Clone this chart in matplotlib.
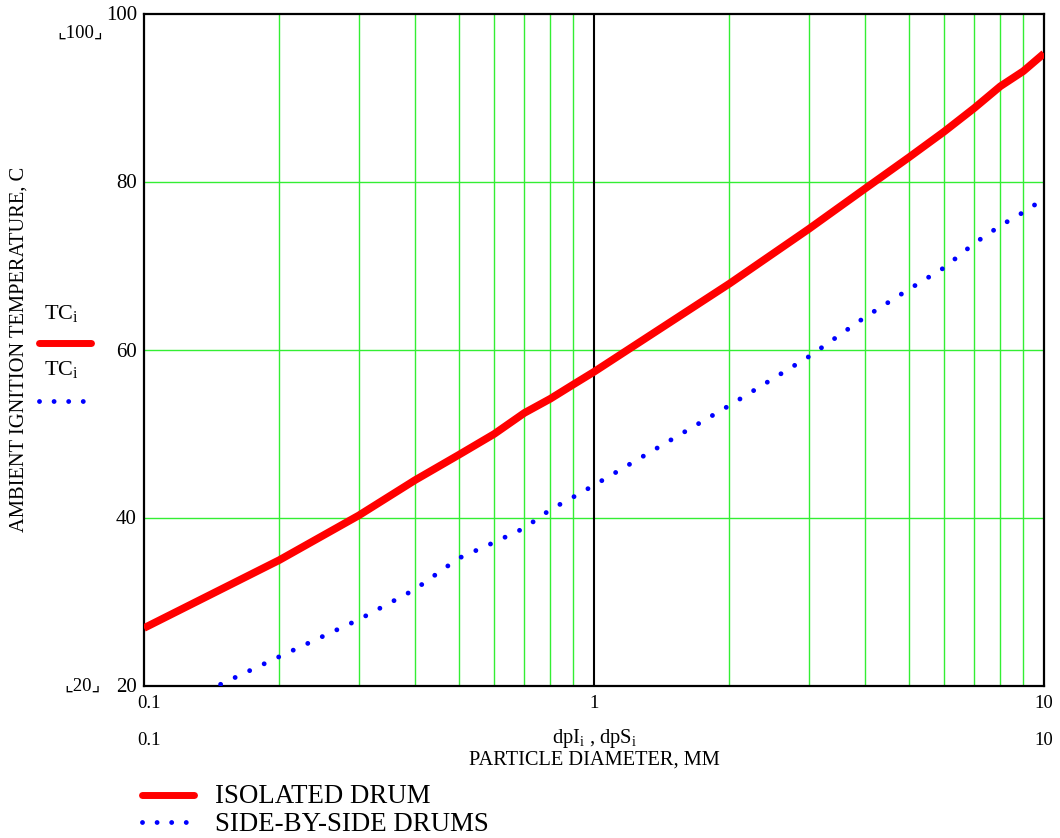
import numpy as np
import matplotlib
matplotlib.use("Agg")
import matplotlib.pyplot as plt

plt.rcParams['font.family'] = ['Liberation Serif', 'DejaVu Serif', 'DejaVu Sans']
plt.rcParams['mathtext.fontset'] = 'custom'
plt.rcParams['mathtext.rm'] = 'Liberation Serif'
plt.rcParams['mathtext.it'] = 'Liberation Serif'

# particle diameter, mm
dp_isolated = [0.1, 0.2, 0.3, 0.4, 0.5, 0.6, 0.7, 0.8, 0.9, 1.0,
               2, 3, 4, 5, 6, 7, 8, 9, 10]
tc_isolated = [26.9, 35.0, 40.3, 44.5, 47.5, 50.0, 52.5, 54.2, 55.9, 57.4,
               67.9, 74.4, 79.2, 82.9, 86.0, 88.8, 91.4, 93.2, 95.3]

dp_side = [0.148, 0.2, 0.3, 0.4, 0.5, 0.6, 0.7, 0.8, 0.9, 1.0,
           2, 3, 4, 5, 6, 7, 8, 9, 10]
tc_side = [20.2, 23.5, 27.9, 31.5, 35.2, 37.1, 38.8, 41.0, 42.5, 43.9,
           53.4, 59.2, 63.9, 67.2, 69.8, 72.7, 74.8, 76.4, 78.0]

x_minor = [0.2, 0.3, 0.4, 0.5, 0.6, 0.7, 0.8, 0.9, 2, 3, 4, 5, 6, 7, 8, 9]
y_ticks = [20, 40, 60, 80, 100]

fig = plt.figure(figsize=(10.6, 8.38), dpi=100)
ax = fig.add_axes([144/1060, 1-686/838, 900/1060, 672/838])

grid_col = '#33ee33'
for xv in x_minor:
    ax.axvline(xv, color=grid_col, lw=1.0, zorder=1)
for yv in [40, 60, 80]:
    ax.axhline(yv, color=grid_col, lw=1.0, zorder=1)
ax.axvline(1, color='black', lw=1.5, zorder=1)

ax.plot(dp_isolated, tc_isolated, color='#ff0000', lw=5.5,
        solid_capstyle='butt', zorder=3)
ax.plot(dp_side, tc_side, color='#0000ff', lw=3.5,
        linestyle=(0, (0.001, 3.3)), dash_capstyle='round', zorder=3)

ax.set_xscale('log')
ax.set_xlim(0.1, 10)
ax.set_ylim(20, 100)
ax.set_xticks([])
ax.set_yticks([])
ax.minorticks_off()
for s in ax.spines.values():
    s.set_linewidth(1.6)
    s.set_color('black')

# tick labels
for yv in y_ticks:
    fig.text(137/1060, 1-(688-(yv-20)*8.4)/838, str(yv), ha='right', va='center',
             fontsize=15)
for px, lab in [(149, '0.1'), (594, '1'), (1044, '10')]:
    fig.text(px/1060, 1-703/838, lab, ha='center', va='center', fontsize=13.5)

# range markers
fig.text(80/1060, 1-33/838, '⌞100⌟', ha='center', va='center', fontsize=13.5,
         family=['Liberation Serif', 'DejaVu Sans'])
fig.text(82/1060, 1-686/838, '⌞20⌟', ha='center', va='center', fontsize=13.5,
         family=['Liberation Serif', 'DejaVu Sans'])

fig.text(149/1060, 1-740/838, '0.1', ha='center', va='center', fontsize=13.5)
fig.text(1044/1060, 1-740/838, '10', ha='center', va='center', fontsize=13.5)
fig.text(595/1060, 1-738/838, r'dpI$_\mathrm{i}$ , dpS$_\mathrm{i}$', ha='center',
         va='center', fontsize=14.8)
fig.text(594/1060, 1-760/838, 'PARTICLE DIAMETER, MM', ha='center', va='center',
         fontsize=14.7)

fig.text(19/1060, 1-349/838, 'AMBIENT IGNITION TEMPERATURE, C', rotation=90,
         ha='center', va='center', fontsize=14.8)

# left trace labels
fig.text(61/1060, 1-313/838, r'TC$_\mathrm{i}$', ha='center', va='center', fontsize=16)
fig.text(61/1060, 1-370/838, r'TC$_\mathrm{i}$', ha='center', va='center', fontsize=16)
fig.add_artist(plt.Line2D([39/1060, 91/1060], [1-343/838, 1-343/838],
                          color='#ff0000', lw=5, solid_capstyle='round'))
fig.add_artist(plt.Line2D([39/1060, 90/1060], [1-401/838, 1-401/838],
                          color='#0000ff', lw=3.5, linestyle=(0, (0.001, 3.0)),
                          dash_capstyle='round'))

# bottom legend
fig.add_artist(plt.Line2D([142/1060, 194/1060], [1-795/838, 1-795/838],
                          color='#ff0000', lw=5, solid_capstyle='round'))
fig.add_artist(plt.Line2D([142/1060, 190/1060], [1-822/838, 1-822/838],
                          color='#0000ff', lw=3.5, linestyle=(0, (0.001, 3.0)),
                          dash_capstyle='round'))
fig.text(215/1060, 1-796/838, 'ISOLATED DRUM', ha='left', va='center', fontsize=19.4)
fig.text(215/1060, 1-824/838, 'SIDE-BY-SIDE DRUMS', ha='left', va='center',
         fontsize=19.4)

fig.savefig('out.png', dpi=100)
